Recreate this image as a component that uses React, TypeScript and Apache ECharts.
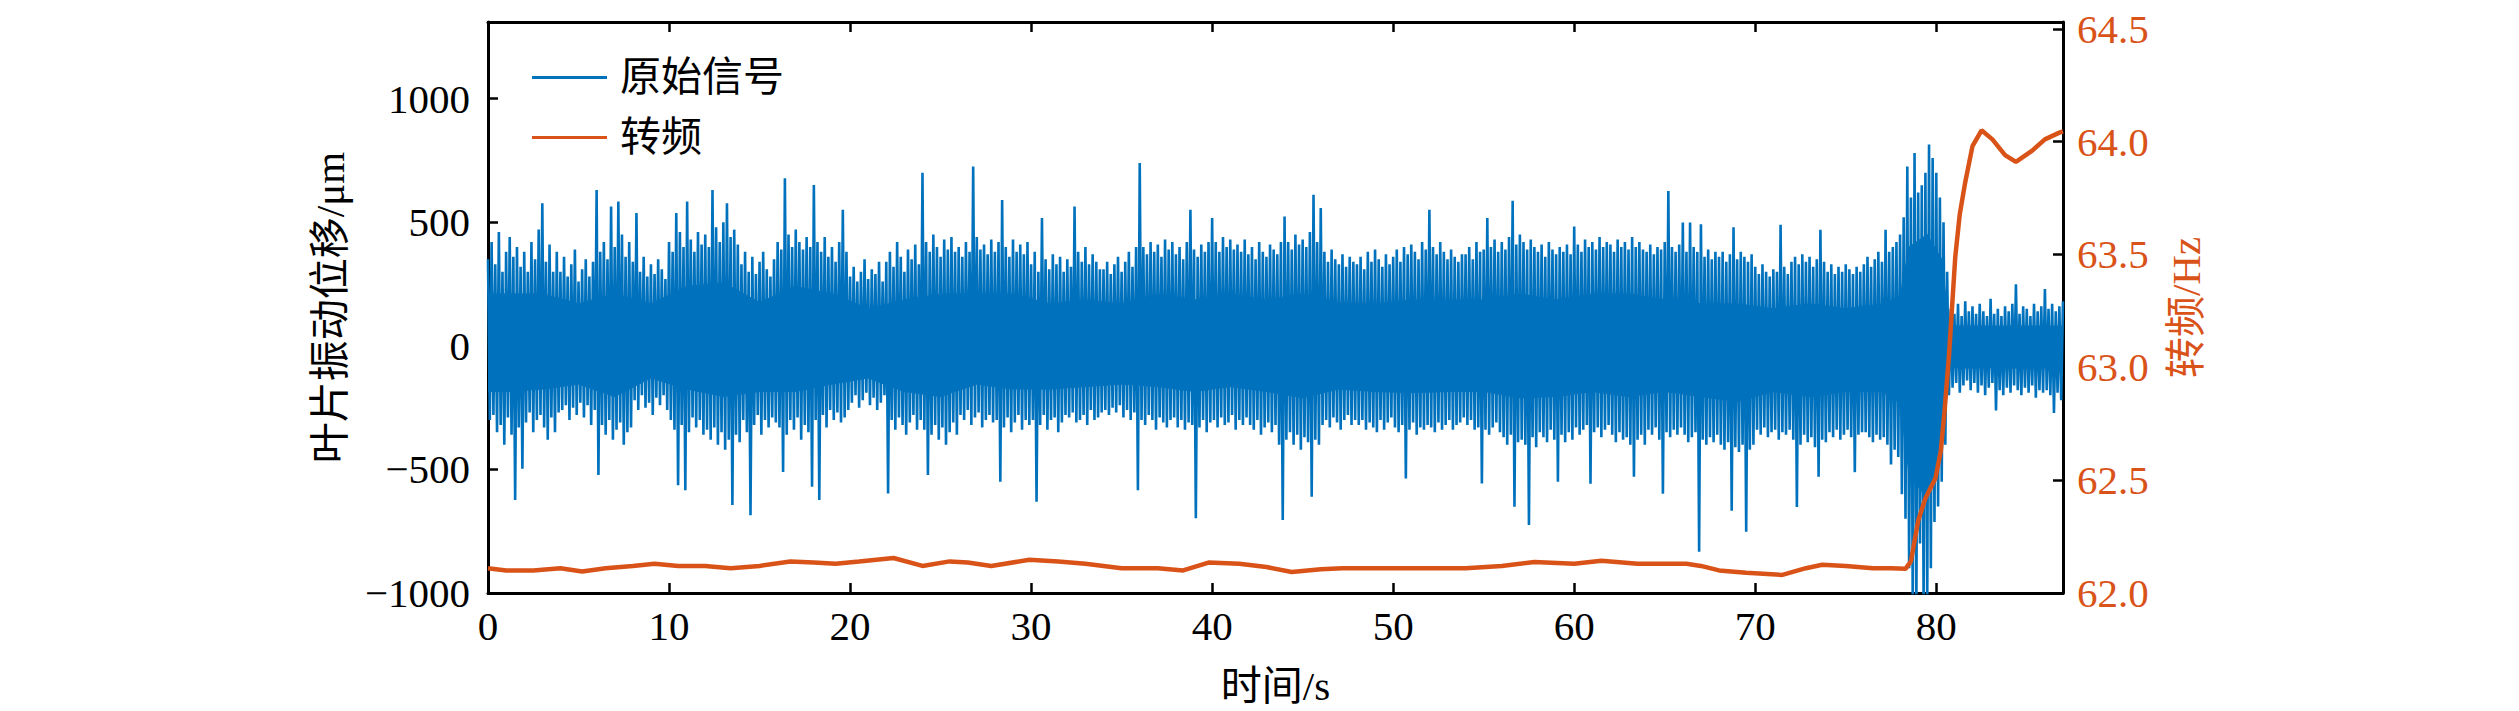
import React, { useEffect, useRef } from "react";
import * as echarts from "echarts";

// x axis (s)
const X_MIN = 0;
const X_MAX = 87;
const X_INTERVAL = 10;

// Blade vibration displacement (μm), one sample every 0.1 s, 20 samples (2 s) per row
const SIGNAL_STEP = 0.1;
const signalRows: number[][] = [
  [350, -300, 420, -280, 330, -350, 460, -320, 300, -400, 380, -290, 440, -360, 360, -624, 400, -330, 320, -497],
  [380, -310, 300, -270, 420, -350, 350, -300, 470, -280, 577, -330, 340, -380, 410, -290, 300, -350, 380, -270],
  [300, -260, 360, -240, 280, -300, 330, -250, 390, -280, 260, -230, 310, -290, 350, -240, 280, -320, 340, -260],
  [630, -523, 380, -320, 420, -360, 350, -300, 564, -380, 400, -340, 584, -310, 450, -400, 360, -350, 420, -330],
  [340, -220, 537, -260, 300, -200, 360, -250, 280, -230, 330, -280, 290, -210, 350, -240, 310, -200, 270, -260],
  [420, -300, 380, -340, 537, -564, 460, -320, 400, -584, 584, -350, 430, -290, 380, -330, 460, -300, 410, -360],
  [450, -340, 400, -380, 630, -330, 480, -400, 420, -350, 500, -420, 577, -380, 440, -644, 470, -360, 410, -390],
  [330, -300, 380, -350, 300, -685, 360, -320, 290, -280, 340, -360, 380, -300, 310, -330, 280, -290, 350, -310],
  [420, -330, 390, -510, 678, -360, 450, -300, 400, -340, 470, -290, 420, -380, 390, -320, 440, -350, 400, -570],
  [651, -300, 420, -624, 380, -280, 440, -330, 360, -260, 400, -300, 340, -270, 420, -310, 550, -290, 380, -260],
  [280, -230, 320, -200, 260, -250, 300, -220, 350, -190, 270, -240, 310, -210, 290, -260, 340, -230, 260, -200],
  [340, -597, 380, -300, 320, -340, 420, -290, 360, -320, 300, -360, 390, -310, 350, -280, 410, -340, 330, -300],
  [700, -340, 420, -523, 380, -360, 450, -320, 400, -380, 360, -330, 430, -400, 390, -350, 440, -310, 380, -360],
  [400, -280, 360, -300, 420, -260, 380, -320, 725, -290, 440, -270, 390, -330, 410, -300, 370, -280, 430, -310],
  [380, -300, 420, -550, 590, -330, 400, -290, 360, -350, 430, -310, 380, -280, 410, -340, 370, -300, 420, -320],
  [330, -300, 380, -631, 300, -320, 517, -280, 350, -340, 310, -300, 370, -290, 330, -350, 360, -310, 300, -280],
  [350, -290, 320, -270, 564, -310, 380, -300, 340, -280, 400, -320, 330, -260, 370, -300, 340, -290, 310, -270],
  [310, -260, 340, -280, 290, -250, 330, -270, 360, -240, 300, -290, 340, -260, 380, -300, 320, -270, 400, -584],
  [740, -300, 400, -320, 370, -280, 420, -300, 380, -340, 410, -290, 360, -310, 430, -330, 390, -300, 420, -290],
  [370, -330, 400, -300, 350, -340, 420, -310, 550, -320, 390, -698, 360, -330, 410, -300, 380, -350, 420, -310],
  [517, -300, 420, -330, 380, -290, 440, -320, 400, -310, 430, -280, 390, -340, 410, -300, 380, -320, 430, -290],
  [370, -320, 400, -340, 350, -300, 420, -360, 380, -330, 360, -310, 410, -350, 390, -320, 370, -400, 420, -705],
  [523, -380, 420, -350, 390, -400, 450, -360, 410, -420, 430, -370, 400, -390, 460, -611, 611, -380, 420, -400],
  [557, -320, 380, -300, 340, -330, 390, -290, 350, -310, 330, -340, 370, -300, 320, -280, 360, -320, 340, -300],
  [330, -320, 360, -300, 310, -340, 380, -310, 340, -330, 390, -350, 350, -300, 320, -340, 370, -310, 330, -290],
  [360, -330, 390, -350, 340, -320, 400, -537, 370, -340, 410, -310, 380, -360, 350, -330, 420, -340, 390, -320],
  [550, -330, 400, -350, 370, -310, 420, -340, 380, -320, 350, -300, 390, -340, 360, -320, 340, -310, 370, -290],
  [370, -320, 400, -300, 350, -340, 420, -330, 380, -557, 390, -340, 517, -360, 400, -330, 430, -310, 380, -350],
  [420, -370, 390, -400, 440, -360, 587, -651, 410, -390, 450, -380, 420, -400, 390, -725, 430, -370, 400, -410],
  [380, -350, 410, -370, 360, -390, 420, -340, 390, -380, 370, -550, 400, -360, 380, -390, 410, -350, 370, -380],
  [483, -330, 410, -360, 380, -340, 430, -320, 400, -558, 420, -350, 390, -330, 440, -370, 400, -340, 420, -320],
  [410, -360, 380, -390, 430, -350, 400, -380, 420, -370, 390, -400, 440, -530, 400, -380, 420, -360, 390, -400],
  [380, -340, 410, -360, 370, -330, 400, -380, 390, -598, 420, -350, 626, -370, 400, -340, 380, -360, 410, -330],
  [499, -360, 380, -390, 499, -370, 400, -350, 380, -833, 492, -380, 360, -400, 390, -370, 350, -390, 380, -360],
  [360, -400, 380, -420, 340, -390, 370, -667, 480, -410, 350, -430, 380, -400, 360, -752, 340, -420, 370, -400],
  [320, -340, 290, -360, 330, -330, 300, -370, 280, -350, 310, -340, 300, -380, 490, -350, 320, -360, 290, -340],
  [340, -380, 360, -652, 330, -400, 370, -360, 340, -390, 360, -370, 320, -410, 350, -530, 470, -380, 340, -390],
  [300, -350, 330, -370, 290, -340, 320, -380, 300, -360, 330, -340, 310, -370, 290, -511, 320, -360, 300, -350],
  [330, -350, 360, -370, 320, -390, 350, -360, 380, -380, 340, -370, 470, -400, 380, -480, 400, -420, 420, -450],
  [450, -600, 520, -700, 725, -900, 600, -1050, 780, -1050, 620, -800, 650, -1050, 700, -1050, 814, -900, 760, -713],
  [700, -650, 600, -550, 500, -400, 300, -200, 150, -170, 130, -150, 170, -190, 120, -160, 180, -140, 140, -180],
  [160, -150, 130, -190, 170, -160, 140, -200, 120, -170, 190, -150, 130, -262, 150, -180, 120, -200, 160, -170],
  [140, -190, 170, -160, 249, -180, 130, -200, 160, -170, 150, -190, 120, -160, 170, -210, 140, -180, 160, -190],
  [230, -180, 150, -200, 170, -272, 140, -190, 160, -220, 180],
];

// Solid core of the displacement trace (μm): time (s), upper and lower edges
const coreTime = [
  0, 1, 3, 5, 7, 9, 11, 13, 15, 17, 19, 21, 23, 25, 27, 29, 31, 33, 35, 37,
  39, 41, 43, 45, 47, 49, 51, 53, 55, 57, 59, 61, 63, 65, 67, 69, 71, 73, 75,
  77, 78, 78.5, 79.5, 80.3, 80.7, 81, 83, 85, 87,
];
const coreUpper = [
  210, 210, 210, 170, 210, 170, 240, 255, 175, 240, 210, 150, 185, 210, 210,
  210, 170, 185, 170, 210, 185, 210, 185, 210, 175, 170, 185, 185, 185, 210,
  185, 210, 210, 185, 170, 170, 150, 170, 150, 170, 200, 400, 450, 350, 80,
  80, 80, 80, 80,
];
const coreLower = [
  -185, -185, -175, -155, -205, -130, -175, -205, -185, -185, -155, -130, -185,
  -205, -155, -175, -175, -165, -155, -165, -185, -165, -185, -210, -175, -185,
  -190, -185, -185, -210, -205, -185, -205, -185, -205, -225, -185, -205, -185,
  -185, -230, -520, -620, -400, -90, -90, -90, -90, -90,
];

// Rotating frequency (Hz)
const speedTime = [
  0, 1, 2.5, 4, 5.2, 6.5, 8, 9.2, 10.5, 12, 13.4, 15, 16.7, 18, 19.2, 20.5,
  22.4, 24, 25.5, 26.5, 27.8, 29.9, 31.5, 33, 35, 37, 38.4, 39.8, 41.5, 43,
  44.4, 46, 47.2, 49, 51, 52.5, 54, 56, 57.8, 60, 61.5, 63.5, 66.2, 67, 68,
  69.5, 71.5, 72.8, 73.7, 75, 76.5, 77.5, 78.3, 78.6, 79, 79.4, 79.96, 80.25,
  80.45, 80.7, 81.05, 81.3, 81.6, 82.0, 82.5, 83.1, 83.8, 84.4, 85.3, 86.0,
  86.8, 87,
];
const speedHz = [
  62.11, 62.1, 62.1, 62.11, 62.095, 62.11, 62.12, 62.13, 62.12, 62.12, 62.11,
  62.12, 62.14, 62.135, 62.13, 62.14, 62.155, 62.12, 62.14, 62.135, 62.12,
  62.147, 62.14, 62.13, 62.11, 62.11, 62.1, 62.135, 62.13, 62.115, 62.093,
  62.105, 62.11, 62.11, 62.11, 62.11, 62.11, 62.12, 62.137, 62.13, 62.143,
  62.13, 62.13, 62.12, 62.1, 62.09, 62.08, 62.11, 62.125, 62.12, 62.11, 62.11,
  62.107, 62.14, 62.32, 62.42, 62.51, 62.63, 62.8, 63.05, 63.49, 63.68, 63.82,
  63.98, 64.05, 64.01, 63.94, 63.91, 63.96, 64.01, 64.04, 64.045,
];

const LEGEND_NAMES = ["原始信号", "转频"];
const BLUE = "#0072BD";
const ORANGE = "#D95319";

export default function App() {
  const ref = useRef<HTMLDivElement>(null);

  useEffect(() => {
    if (!ref.current) return;
    const chart = echarts.init(ref.current, null, { renderer: "svg" });
    const serif = "'Liberation Serif', 'Times New Roman', 'Noto Sans CJK SC', serif";
    const signal = signalRows.flat();
    const signalData = signal.map((v, i) => [Number((i * SIGNAL_STEP).toFixed(1)), v]);
    const speedData = speedTime.map((t, i) => [t, speedHz[i]]);
    const coreData = coreTime.map((t, i) => [t, coreLower[i], coreUpper[i]]);

    const axisLine = { show: true, onZero: false, lineStyle: { color: "#000", width: 3 } };
    const axisTick = { show: true, inside: true, length: 10, lineStyle: { color: "#000", width: 2.5 } };

    chart.setOption({
      animation: false,
      backgroundColor: "#fff",
      grid: { left: 488, right: 456, top: 22, bottom: 116, containLabel: false },
      legend: {
        data: LEGEND_NAMES,
        orient: "vertical",
        left: 527,
        top: 52,
        icon: "rect",
        itemWidth: 75,
        itemHeight: 3,
        itemGap: 19,
        textStyle: { fontSize: 41, fontFamily: serif, color: "#000", padding: [0, 0, 0, 8] },
      },
      xAxis: [
        {
          type: "value",
          position: "bottom",
          min: X_MIN,
          max: X_MAX,
          interval: X_INTERVAL,
          axisLine,
          axisTick,
          splitLine: { show: false },
          axisLabel: {
            margin: 12,
            fontSize: 41,
            fontFamily: serif,
            color: "#000",
            showMaxLabel: false,
            formatter: (v: number) => (v % X_INTERVAL === 0 ? String(v) : ""),
          },
          name: "时间/s",
          nameLocation: "middle",
          nameGap: 72,
          nameTextStyle: { fontSize: 41, fontFamily: serif, color: "#000" },
        },
        {
          type: "value",
          position: "top",
          min: X_MIN,
          max: X_MAX,
          interval: X_INTERVAL,
          axisLine,
          axisTick,
          splitLine: { show: false },
          axisLabel: { show: false },
        },
      ],
      yAxis: [
        {
          type: "value",
          position: "left",
          min: -1000,
          max: 1310,
          interval: 500,
          axisLine,
          axisTick,
          splitLine: { show: false },
          axisLabel: {
            margin: 18,
            fontSize: 41,
            fontFamily: serif,
            color: "#000",
            showMaxLabel: false,
            formatter: (v: number) => (v % 500 === 0 ? String(v).replace("-", "\u2212") : ""),
          },
          name: "叶片振动位移/μm",
          nameLocation: "middle",
          nameRotate: 90,
          nameGap: 138,
          nameTextStyle: { fontSize: 41, fontFamily: serif, color: "#000" },
        },
        {
          type: "value",
          position: "right",
          min: 62,
          max: 64.53,
          interval: 0.5,
          axisLine,
          axisTick,
          splitLine: { show: false },
          axisLabel: {
            margin: 14,
            fontSize: 41,
            fontFamily: serif,
            color: ORANGE,
            showMaxLabel: false,
            formatter: (v: number) => v.toFixed(1),
          },
          name: "转频/Hz",
          nameLocation: "middle",
          nameRotate: 90,
          nameGap: 102,
          nameTextStyle: { fontSize: 41, fontFamily: serif, color: ORANGE },
        },
      ],
      series: [
        {
          name: "core",
          type: "custom",
          xAxisIndex: 0,
          yAxisIndex: 0,
          data: coreData,
          encode: { x: 0, y: [1, 2] },
          clip: true,
          silent: true,
          z: 1,
          renderItem: (params: any, api: any) => {
            const i = params.dataIndex;
            if (i >= coreData.length - 1) return null;
            const a = coreData[i];
            const b = coreData[i + 1];
            const pts = [
              api.coord([a[0], a[2]]),
              api.coord([b[0], b[2]]),
              api.coord([b[0], b[1]]),
              api.coord([a[0], a[1]]),
            ];
            return {
              type: "polygon",
              shape: { points: pts },
              style: { fill: BLUE, stroke: BLUE, lineWidth: 1 },
            };
          },
        },
        {
          name: LEGEND_NAMES[0],
          type: "line",
          xAxisIndex: 0,
          yAxisIndex: 0,
          data: signalData,
          symbol: "none",
          showSymbol: false,
          clip: true,
          lineStyle: { color: BLUE, width: 2.6 },
          itemStyle: { color: BLUE },
          z: 2,
        },
        {
          name: LEGEND_NAMES[1],
          type: "line",
          xAxisIndex: 0,
          yAxisIndex: 1,
          data: speedData,
          symbol: "none",
          showSymbol: false,
          clip: true,
          lineStyle: { color: ORANGE, width: 4.5 },
          itemStyle: { color: ORANGE },
          z: 3,
        },
      ],
    });

    return () => chart.dispose();
  }, []);

  return (
    <div
      ref={ref}
      style={{ position: "fixed", left: 0, top: 0, width: "2519px", height: "711px", background: "#fff" }}
    />
  );
}
